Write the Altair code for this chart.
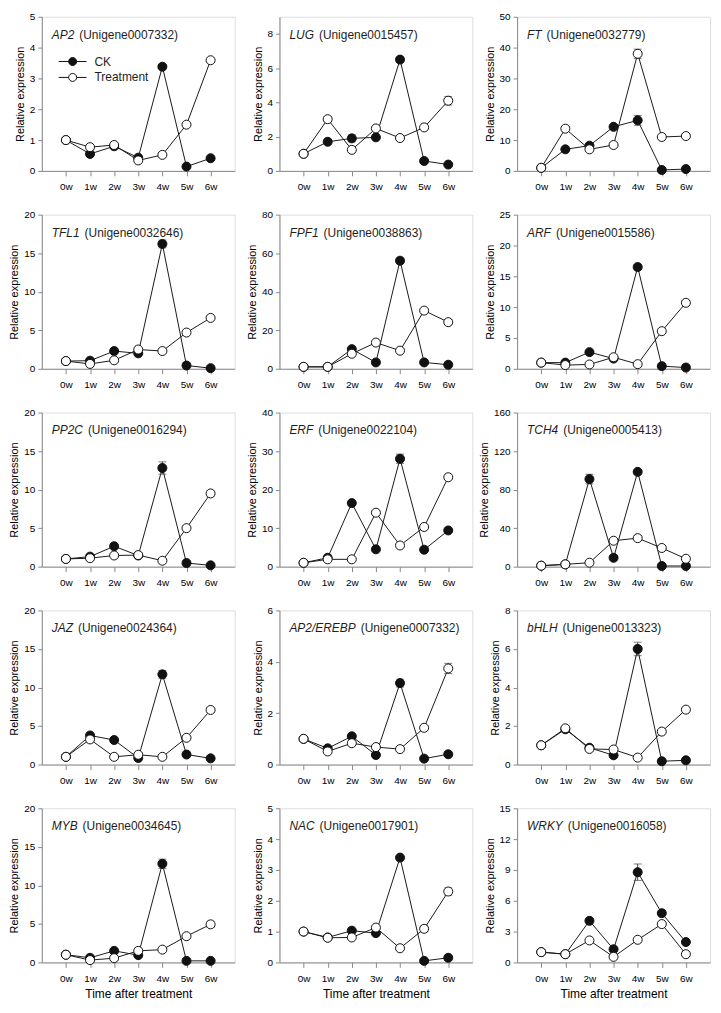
import altair as alt
import pandas as pd

weeks = [0, 1, 2, 3, 4, 5, 6]
series_names = ["CK", "Treatment"]

genes = ["AP2", "LUG", "FT", "TFL1", "FPF1", "ARF", "PP2C", "ERF", "TCH4",
         "JAZ", "AP2/EREBP", "bHLH", "MYB", "NAC", "WRKY"]
unigenes = ["Unigene0007332", "Unigene0015457", "Unigene0032779", "Unigene0032646",
            "Unigene0038863", "Unigene0015586", "Unigene0016294", "Unigene0022104",
            "Unigene0005413", "Unigene0024364", "Unigene0007332", "Unigene0013323",
            "Unigene0034645", "Unigene0017901", "Unigene0016058"]
y_max = [5, 9, 50, 20, 80, 25, 20, 40, 160, 20, 6, 8, 20, 5, 15]
y_step = [1, 2, 10, 5, 20, 5, 5, 10, 40, 5, 2, 2, 5, 1, 3]

ck_values = [
    [1.0, 0.55, 0.8, 0.43, 3.38, 0.14, 0.41],
    [1.0, 1.7, 1.9, 1.96, 6.5, 0.58, 0.37],
    [1.0, 7.0, 8.2, 14.3, 16.4, 0.3, 0.6],
    [1.0, 1.05, 2.3, 2.0, 16.2, 0.42, 0.08],
    [1.0, 1.0, 10.2, 3.3, 56.1, 3.3, 2.1],
    [1.0, 1.0, 2.7, 1.65, 16.5, 0.43, 0.2],
    [1.0, 1.3, 2.65, 1.45, 12.8, 0.47, 0.17],
    [1.0, 2.3, 16.5, 4.5, 28.0, 4.4, 9.4],
    [1.0, 2.4, 90.9, 9.2, 98.4, 0.7, 0.7],
    [1.0, 3.77, 3.18, 0.85, 11.7, 1.3, 0.8],
    [1.0, 0.63, 1.1, 0.37, 3.17, 0.23, 0.4],
    [1.0, 1.83, 0.87, 0.48, 6.0, 0.17, 0.22],
    [1.0, 0.6, 1.5, 0.94, 12.8, 0.2, 0.2],
    [1.0, 0.81, 1.03, 0.95, 3.4, 0.05, 0.15],
    [1.0, 0.8, 4.05, 1.28, 8.78, 4.79, 1.98],
]
treatment_values = [
    [1.0, 0.77, 0.84, 0.34, 0.52, 1.5, 3.59],
    [1.0, 3.02, 1.23, 2.48, 1.92, 2.54, 4.1],
    [1.0, 13.7, 7.0, 8.4, 38.0, 11.0, 11.3],
    [1.0, 0.63, 1.1, 2.5, 2.3, 4.7, 6.6],
    [1.0, 1.0, 7.8, 13.6, 9.4, 30.2, 24.2],
    [1.0, 0.6, 0.7, 1.87, 0.75, 6.1, 10.7],
    [1.0, 1.1, 1.45, 1.5, 0.77, 5.0, 9.5],
    [1.0, 1.9, 1.9, 14.0, 5.5, 10.3, 23.2],
    [1.0, 2.4, 4.1, 26.9, 29.6, 19.4, 8.2],
    [1.0, 3.26, 1.0, 1.27, 1.0, 3.47, 7.08],
    [1.0, 0.51, 0.83, 0.68, 0.6, 1.43, 3.74],
    [1.0, 1.88, 0.81, 0.78, 0.36, 1.71, 2.85],
    [1.0, 0.3, 0.55, 1.5, 1.66, 3.4, 4.94],
    [1.0, 0.8, 0.81, 1.13, 0.46, 1.09, 2.3],
    [1.0, 0.8, 2.14, 0.54, 2.2, 3.73, 0.8],
]
ck_err = [
    [0, 0, 0, 0, 0.05, 0, 0],
    [0, 0, 0.2, 0, 0.15, 0, 0],
    [0, 0, 0, 0, 1.6, 0, 0],
    [0, 0, 0, 0, 0.5, 0, 0],
    [0, 0, 0, 0, 1.5, 0, 0],
    [0, 0, 0, 0, 0.4, 0, 0],
    [0, 0, 0, 0, 0.8, 0, 0],
    [0, 0, 0, 0, 1.2, 0, 0],
    [0, 0, 5.0, 0, 2.0, 0, 0],
    [0, 0, 0, 0, 0.5, 0, 0],
    [0, 0, 0.08, 0, 0.15, 0, 0],
    [0, 0, 0, 0, 0.35, 0, 0],
    [0, 0, 0, 0, 0.6, 0, 0],
    [0, 0, 0, 0, 0.05, 0, 0],
    [0, 0, 0, 0, 0.8, 0, 0],
]
treatment_err = [
    [0, 0, 0, 0, 0, 0, 0.03],
    [0, 0.15, 0, 0, 0, 0, 0.25],
    [0, 0, 0, 0, 1.5, 0, 0],
    [0, 0, 0, 0, 0, 0, 0.2],
    [0, 0, 0, 0, 0, 0, 1.2],
    [0, 0, 0, 0, 0, 0, 0.3],
    [0, 0, 0, 0, 0, 0, 0.35],
    [0, 0, 0, 0, 0, 0, 0.3],
    [0, 0, 0, 0, 0, 0, 0.5],
    [0, 0, 0, 0, 0, 0, 0.3],
    [0, 0, 0, 0, 0, 0, 0.2],
    [0, 0, 0, 0, 0, 0, 0.1],
    [0, 0, 0, 0, 0, 0, 0.4],
    [0, 0, 0, 0, 0, 0.1, 0.12],
    [0, 0, 0, 0, 0, 0, 0.05],
]

FONT = "Liberation Sans"
FS = 12
TXT = "#1e1e1e"
PANEL_W = 194
PANEL_H = 155

# Arial / Liberation Sans advance widths (per 1000 em) to place the unigene text
CHAR_W = {"A": 667, "P": 667, "2": 556, "L": 556, "U": 722, "G": 778, "F": 611,
          "T": 611, "1": 556, "R": 722, "C": 722, "E": 667, "H": 722, "4": 556,
          "J": 500, "Z": 611, "/": 278, "B": 667, "M": 833, "Y": 667, "N": 722,
          "W": 944, "K": 667, "b": 556, "h": 556, "l": 222}


def text_width(s, size):
    return sum(CHAR_W.get(c, 556) for c in s) * size / 1000.0


LEGEND_SYMBOL = ("M-2.8,0L-0.8,0M0.8,0L2.8,0M-0.8,0"
                 "A0.8,0.8,0,1,0,0.8,0A0.8,0.8,0,1,0,-0.8,0Z")


def panel(i, show_x_title, show_legend):
    rows = []
    for sname, vals, errs in ((series_names[0], ck_values[i], ck_err[i]),
                              (series_names[1], treatment_values[i], treatment_err[i])):
        for wk, v, e in zip(weeks, vals, errs):
            rows.append({"week": wk, "value": v, "series": sname,
                         "lo": v - e, "hi": v + e, "err": e})
    df = pd.DataFrame(rows)
    err_df = df[df["err"] > 0]

    yticks = list(range(0, int(y_max[i]) + 1, y_step[i]))
    x_axis_kw = dict(values=weeks, labelExpr="datum.value + 'w'", tickSize=5,
                     labelPadding=6, grid=False, titlePadding=5,
                     titleFontSize=12, titleFontWeight="normal")
    x_axis = alt.Axis(title="Time after treatment", **x_axis_kw) if show_x_title \
        else alt.Axis(title=None, **x_axis_kw)
    y_axis = alt.Axis(values=yticks, title="Relative expression", tickSize=4,
                      labelPadding=3, titlePadding=4, grid=False,
                      titleFontWeight="normal")
    xs = alt.Scale(domain=[-1, 7], nice=False, zero=False)
    ys = alt.Scale(domain=[0, y_max[i]], nice=False)

    x_enc = alt.X("week:Q", scale=xs, axis=x_axis)

    lines = alt.Chart(df).mark_line(color="#1a1a1a", strokeWidth=1).encode(
        x=x_enc,
        y=alt.Y("value:Q", scale=ys, axis=y_axis),
        detail="series:N",
        order="week:Q",
    )
    err_rule = alt.Chart(err_df).mark_rule(color="#444", strokeWidth=1).encode(
        x=x_enc,
        y=alt.Y("lo:Q", scale=ys, axis=y_axis),
        y2="hi:Q",
    )
    cap_lo = alt.Chart(err_df).mark_tick(orient="horizontal", size=8, thickness=1,
                                         color="#444").encode(
        x=x_enc, y=alt.Y("lo:Q", scale=ys, axis=y_axis))
    cap_hi = alt.Chart(err_df).mark_tick(orient="horizontal", size=8, thickness=1,
                                         color="#444").encode(
        x=x_enc, y=alt.Y("hi:Q", scale=ys, axis=y_axis))

    if show_legend:
        legend = alt.Legend(orient="none", legendX=25, legendY=39, title=None,
                            symbolType=LEGEND_SYMBOL, symbolSize=100,
                            symbolStrokeWidth=1, symbolStrokeColor="#111",
                            labelFont=FONT, labelFontSize=FS, labelColor=TXT,
                            labelOffset=16, rowPadding=4, padding=0)
    else:
        legend = None
    points = alt.Chart(df).mark_point(filled=True, size=82, stroke="#111",
                                      strokeWidth=1, opacity=1).encode(
        x=x_enc,
        y=alt.Y("value:Q", scale=ys, axis=y_axis),
        fill=alt.Fill("series:N",
                      scale=alt.Scale(domain=series_names, range=["#111111", "#ffffff"]),
                      legend=legend),
    )

    gene_w = text_width(genes[i], FS)
    t_gene = alt.Chart(pd.DataFrame({"label": [genes[i]]})).mark_text(
        align="left", baseline="middle", font=FONT, fontSize=FS,
        fontStyle="italic", color=TXT).encode(
        x=alt.value(10), y=alt.value(18), text="label:N")
    t_uni = alt.Chart(pd.DataFrame({"label": ["(" + unigenes[i] + ")"]})).mark_text(
        align="left", baseline="middle", font=FONT, fontSize=FS,
        color=TXT).encode(
        x=alt.value(10 + gene_w + 5), y=alt.value(18), text="label:N")

    return alt.layer(lines, err_rule, cap_lo, cap_hi, points, t_gene, t_uni).properties(
        width=PANEL_W, height=PANEL_H)


panels = [panel(i, show_x_title=(i >= 12), show_legend=(i == 0)) for i in range(len(genes))]

chart = alt.concat(
    *panels, columns=3, spacing={"row": 44, "column": 45}, bounds="flush"
).resolve_scale(fill="independent").properties(
    padding={"left": 0, "top": 0, "right": 2, "bottom": 2}
).configure_view(
    stroke="#8a8a8a", strokeWidth=1
).configure_axis(
    domain=False, grid=False, labelFont=FONT, titleFont=FONT,
    labelFontSize=FS, titleFontSize=FS, labelColor=TXT, titleColor=TXT,
    titleFontWeight="normal", tickColor="#777"
).configure(background="white")

chart.save("out.html", embed_options={"renderer": "svg", "actions": False})
